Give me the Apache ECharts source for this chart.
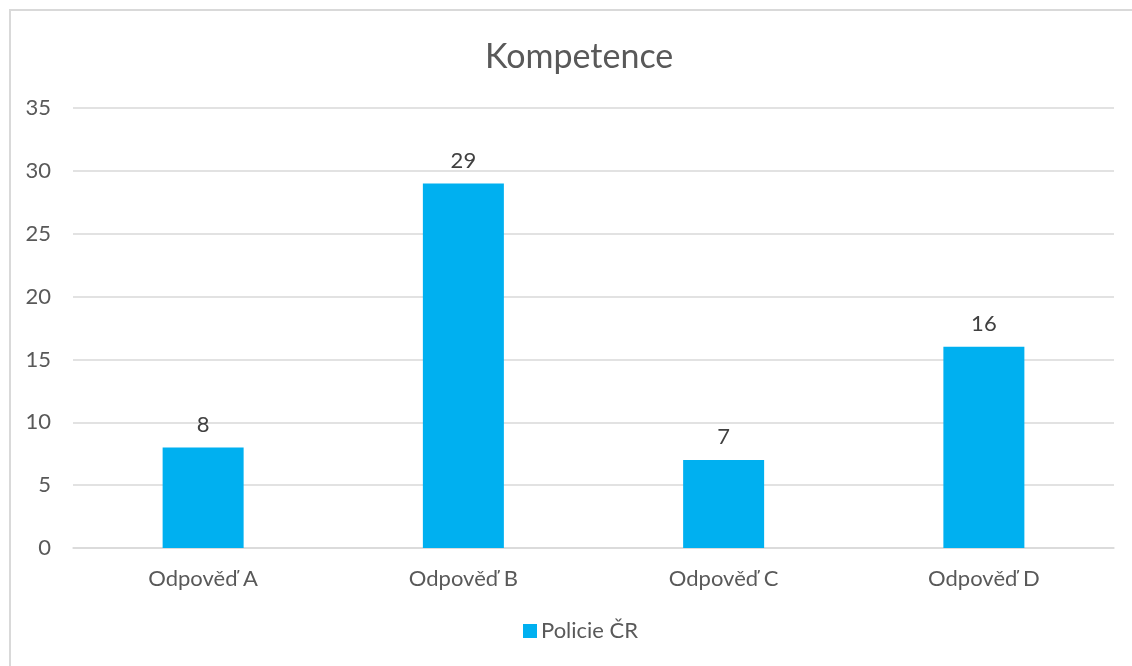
<!DOCTYPE html>
<html>
<head>
<meta charset="utf-8">
<script src="https://cdn.jsdelivr.net/npm/echarts@6/dist/echarts.min.js"></script>
<style>
  html, body { margin: 0; padding: 0; background: #fff; }
  #frame { position: absolute; left: 9px; top: 9px; width: 1140px; height: 680px; border: 2px solid #d9d9d9; box-sizing: border-box; }
  #chart { position: absolute; left: 0; top: 0; width: 1132px; height: 666px; }
</style>
</head>
<body>
<div id="frame"></div>
<div id="chart"></div>
<script>
// Answers to the "Kompetence" question
const categories = ['Odpověď A', 'Odpověď B', 'Odpověď C', 'Odpověď D'];
const seriesName = 'Policie ČR';
const values = [8, 29, 7, 16];
const yTicks = { min: 0, max: 35, interval: 5 };

const FONT = 'Lato, "Open Sans", sans-serif';
const TEXT = '#595959';

const chart = echarts.init(document.getElementById('chart'), null, { renderer: 'canvas' });
chart.setOption({
  animation: false,
  backgroundColor: 'transparent',
  title: {
    text: 'Kompetence',
    left: 480,
    top: 35,
    textStyle: { fontFamily: FONT, fontSize: 34, fontWeight: 'normal', color: TEXT }
  },
  legend: {
    bottom: 19,
    left: 518,
    itemWidth: 14,
    itemHeight: 14,
    itemGap: 6,
    icon: 'rect',
    textStyle: { fontFamily: FONT, fontSize: 22, color: TEXT, padding: [0, 0, 0, -1] },
    data: [seriesName]
  },
  grid: { left: 73, right: 18, top: 108, bottom: 118, containLabel: false },
  xAxis: {
    type: 'category',
    data: categories,
    axisLine: { show: true, lineStyle: { color: '#d9d9d9', width: 1.5 } },
    axisTick: { show: false },
    axisLabel: { fontFamily: FONT, fontSize: 22, color: TEXT, margin: 20 }
  },
  yAxis: {
    type: 'value',
    min: yTicks.min,
    max: yTicks.max,
    interval: yTicks.interval,
    axisLine: { show: false },
    axisTick: { show: false },
    axisLabel: { fontFamily: FONT, fontSize: 22, color: TEXT, margin: 22 },
    splitLine: { lineStyle: { color: '#d9d9d9', width: 1.5 } }
  },
  series: [{
    name: seriesName,
    type: 'bar',
    data: values,
    barWidth: 81,
    itemStyle: { color: '#00b0f0' },
    label: {
      show: true,
      position: 'top',
      distance: 12,
      fontFamily: FONT,
      fontSize: 22,
      color: '#404040'
    }
  }]
});
</script>
</body>
</html>
